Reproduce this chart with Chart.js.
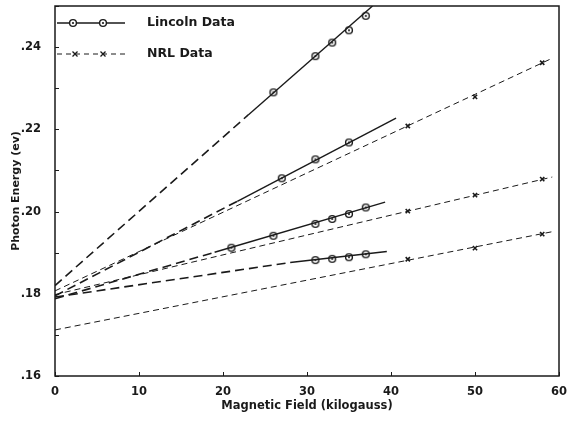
<!DOCTYPE html>
<html>
<head>
<meta charset="utf-8">
<script src="https://cdn.jsdelivr.net/npm/chart.js@4.4.1/dist/chart.umd.min.js"></script>
<style>
  html, body { margin: 0; padding: 0; background: #fff; }
  #wrap { width: 573px; height: 425px; }
</style>
</head>
<body>
<div id="wrap"><canvas id="chart" width="573" height="425"></canvas></div>
<script>
// Lincoln measured points (circled dots)
const lincolnX1 = [26, 31, 33, 35, 37];
const lincolnY1 = [0.229, 0.2378, 0.2411, 0.2441, 0.2476];
const lincolnX2 = [27, 31, 35];
const lincolnY2 = [0.2081, 0.2127, 0.2168];
const lincolnX3 = [21, 26, 31, 33, 35, 37];
const lincolnY3 = [0.1912, 0.1941, 0.1970, 0.1982, 0.1994, 0.2010];
const lincolnX4 = [31, 33, 35, 37];
const lincolnY4 = [0.1882, 0.1885, 0.1889, 0.1896];

// NRL measured points (crosses)
const nrlX = [42, 50, 58];
const nrlY1 = [0.2208, 0.2279, 0.2362];
const nrlY2 = [0.2001, 0.2040, 0.2079];
const nrlY3 = [0.1884, 0.1911, 0.1945];

// fitted lines: [x0, y0, x1, y1]
const lincolnSolid = [
    [23, 0.2235, 37.8, 0.25],
    [21.7, 0.2025, 40.6, 0.2227],
    [19, 0.1901, 39.3, 0.2023],
    [28, 0.1876, 39.5, 0.1903]
];
const lincolnExtrap = [
    [0, 0.182, 23, 0.2235],
    [0, 0.1795, 21.7, 0.2025],
    [0, 0.1788, 19, 0.1901],
    [0, 0.1792, 28, 0.1876]
];
const nrlFits = [
    [0, 0.1807, 59.2, 0.2373],
    [0, 0.1798, 59.2, 0.2084],
    [0, 0.1712, 59.2, 0.1951]
];

const xTicks = [0, 10, 20, 30, 40, 50, 60];
const INK = '#1a1a1a';
const FONT = 'DejaVu Sans';

function pts(xs, ys) {
    return xs.map((x, i) => ({ x: x, y: ys[i] }));
}
function seg(s) {
    return [{ x: s[0], y: s[1] }, { x: s[2], y: s[3] }];
}

// circled-dot marker
function makeCircleDot() {
    const c = document.createElement('canvas');
    c.width = 10; c.height = 10;
    const g = c.getContext('2d');
    g.fillStyle = '#fff';
    g.strokeStyle = INK;
    g.lineWidth = 1.4;
    g.beginPath(); g.arc(5, 5, 3.4, 0, Math.PI * 2); g.fill(); g.stroke();
    g.fillStyle = INK;
    g.beginPath(); g.arc(5, 5, 1.1, 0, Math.PI * 2); g.fill();
    return c;
}
const circleDot = makeCircleDot();

const datasets = [];

lincolnExtrap.forEach(s => datasets.push({
    data: seg(s), showLine: true, borderColor: INK, borderWidth: 1.6,
    borderDash: [9, 5], pointRadius: 0
}));
nrlFits.forEach(s => datasets.push({
    data: seg(s), showLine: true, borderColor: INK, borderWidth: 1,
    borderDash: [6, 4], pointRadius: 0
}));
lincolnSolid.forEach(s => datasets.push({
    data: seg(s), showLine: true, borderColor: INK, borderWidth: 1.4,
    pointRadius: 0
}));

[[lincolnX1, lincolnY1], [lincolnX2, lincolnY2], [lincolnX3, lincolnY3], [lincolnX4, lincolnY4]]
    .forEach(([xs, ys]) => datasets.push({
        data: pts(xs, ys), showLine: false, pointStyle: circleDot, pointRadius: 5
    }));

[nrlY1, nrlY2, nrlY3].forEach(ys => datasets.push({
    data: pts(nrlX, ys), showLine: false, pointStyle: 'crossRot',
    pointRadius: 3, borderColor: INK, borderWidth: 1.6
}));

// frame, inward ticks and legend
const framePlugin = {
    id: 'frame',
    afterDraw(chart) {
        const ctx = chart.ctx;
        const a = chart.chartArea;
        const xs = chart.scales.x, ys = chart.scales.y;
        ctx.save();
        ctx.strokeStyle = INK;
        ctx.lineWidth = 1.5;
        ctx.strokeRect(a.left, a.top, a.right - a.left, a.bottom - a.top);

        ctx.lineWidth = 1;
        for (let v = 16; v <= 25; v++) {
            const py = Math.round(ys.getPixelForValue(v / 100)) + 0.5;
            ctx.beginPath(); ctx.moveTo(a.left, py); ctx.lineTo(a.left + 4, py); ctx.stroke();
        }
        xTicks.forEach(v => {
            const px = Math.round(xs.getPixelForValue(v)) + 0.5;
            ctx.beginPath(); ctx.moveTo(px, a.bottom); ctx.lineTo(px, a.bottom - 4); ctx.stroke();
        });

        // legend
        const lx0 = a.left + 2, lx1 = a.left + 70;
        const y1 = a.top + 17, y2 = a.top + 48;
        ctx.lineWidth = 1.4;
        ctx.beginPath(); ctx.moveTo(lx0, y1); ctx.lineTo(lx1, y1); ctx.stroke();
        [a.left + 18, a.left + 48].forEach(px => ctx.drawImage(circleDot, px - 5, y1 - 5));
        ctx.lineWidth = 1;
        ctx.setLineDash([5, 4]);
        ctx.beginPath(); ctx.moveTo(lx0, y2); ctx.lineTo(lx1, y2); ctx.stroke();
        ctx.setLineDash([]);
        ctx.lineWidth = 1.3;
        [a.left + 20, a.left + 48].forEach(px => {
            ctx.beginPath();
            ctx.moveTo(px - 2.5, y2 - 2.5); ctx.lineTo(px + 2.5, y2 + 2.5);
            ctx.moveTo(px + 2.5, y2 - 2.5); ctx.lineTo(px - 2.5, y2 + 2.5);
            ctx.stroke();
        });
        ctx.fillStyle = INK;
        ctx.font = 'bold 12.5px "' + FONT + '"';
        ctx.textBaseline = 'middle';
        ctx.fillText('Lincoln Data', a.left + 92, y1);
        ctx.fillText('NRL Data', a.left + 92, y2);
        ctx.restore();
    }
};

new Chart(document.getElementById('chart'), {
    type: 'scatter',
    data: { datasets: datasets },
    options: {
        responsive: false,
        animation: false,
        layout: { padding: { left: 0, right: 14, top: 6, bottom: 12 } },
        plugins: { legend: { display: false }, tooltip: { enabled: false } },
        scales: {
            x: {
                type: 'linear', min: 0, max: 60,
                afterFit: s => { s.height = 37; s.paddingRight = 0; },
                afterBuildTicks: s => { s.ticks = xTicks.map(v => ({ value: v })); },
                grid: { display: false },
                border: { display: false },
                ticks: {
                    color: INK, padding: 1,
                    font: { family: FONT, size: 11.5, weight: 'bold' },
                    callback: v => String(v)
                },
                title: {
                    display: true, text: 'Magnetic Field (kilogauss)', color: INK,
                    padding: { top: 1, bottom: 0 },
                    font: { family: FONT, size: 11.5, weight: 'bold' }
                }
            },
            y: {
                type: 'linear', min: 0.16, max: 0.25,
                afterFit: s => { s.width = 55; s.paddingTop = 0; },
                grid: { display: false },
                border: { display: false },
                ticks: {
                    stepSize: 0.01, color: INK, padding: 6,
                    font: { family: FONT, size: 11.5, weight: 'bold' },
                    callback: v => {
                        const k = Math.round(v * 100);
                        return k % 2 === 0 ? (k / 100).toFixed(2).replace(/^0/, '') : '';
                    }
                },
                title: {
                    display: true, text: 'Photon Energy (ev)', color: INK,
                    padding: { top: 10, bottom: 2 },
                    font: { family: FONT, size: 11, weight: 'bold' }
                }
            }
        }
    },
    plugins: [framePlugin]
});
</script>
</body>
</html>
